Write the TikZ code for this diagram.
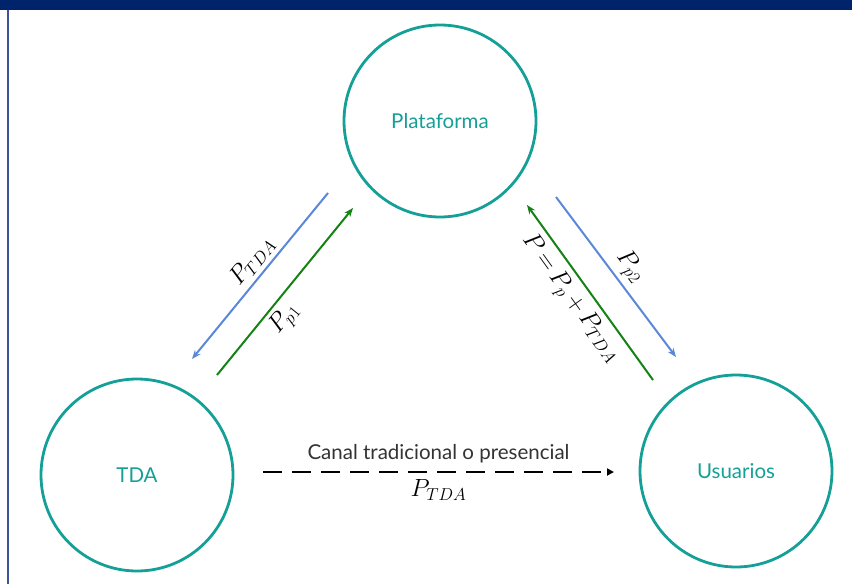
\documentclass[tikz,border=0pt]{standalone}
\usepackage{fontspec}
\setsansfont{Lato}
\usetikzlibrary{arrows.meta}
\definecolor{tealc}{RGB}{20,160,150}
\definecolor{bluec}{RGB}{90,135,215}
\definecolor{greenc}{RGB}{20,130,20}
\definecolor{navy}{RGB}{0,36,107}
\definecolor{edge}{RGB}{60,85,150}
\tikzset{
  actor/.style={circle, draw=tealc, line width=2.8pt, minimum size=192pt,
    inner sep=0pt, text=tealc, font=\sffamily\fontsize{20.5}{24}\selectfont},
  flowb/.style={draw=bluec, line width=2pt, -{Stealth[length=9pt,width=7pt]}},
  flowg/.style={draw=greenc, line width=2pt, -{Stealth[length=9pt,width=7pt]}},
  lbl/.style={font=\fontsize{23}{26}\selectfont}
}
\begin{document}
\begin{tikzpicture}[x=1pt, y=-1pt]
  \useasboundingbox (0,0) rectangle (852,584);
  % barra superior y borde
  \fill[navy] (0,0) rectangle (852,10);
  \draw[edge, line width=1.2pt] (8,10) -- (8,584);
  % actores
  \node[actor] (plat) at (440,121) {Plataforma};
  \node[actor] (tda) at (137,475) {TDA};
  \node[actor] (usr) at (736,471) {Usuarios};
  % extremos de las flechas
  \coordinate (b1s) at (328,193);
  \coordinate (b1e) at (192,359);
  \coordinate (g1s) at (217,375);
  \coordinate (g1e) at (353,208);
  \coordinate (g2s) at (653,380);
  \coordinate (g2e) at (527,205);
  \coordinate (b2s) at (556,197);
  \coordinate (b2e) at (676,357);
  \coordinate (ds) at (263,472);
  \coordinate (de) at (614,472);
  % TDA <-> plataforma
  \draw[flowb] (b1s) -- (b1e) node[pos=0.47, lbl, sloped, above=1pt] {$P_{TDA}$};
  \draw[flowg] (g1s) -- (g1e) node[pos=0.4, lbl, sloped, below=1pt] {$P_{p1}$};
  % plataforma <-> usuarios
  \draw[flowg] (g2s) -- (g2e) node[pos=0.53, lbl, sloped, below=3pt] {$P\,{=}\,P_p\,{+}\,P_{TDA}$};
  \draw[flowb] (b2s) -- (b2e) node[pos=0.5, lbl, sloped, above=1pt] {$P_{p2}$};
  % canal tradicional
  \draw[line width=2pt, dash pattern=on 19pt off 10pt, -{Triangle[length=7pt,width=7pt]}] (ds) -- (de)
    node[midway, above=5pt, font=\sffamily\fontsize{20.5}{24}\selectfont, text=black!80] {Canal tradicional o presencial}
    node[midway, below=3pt, lbl] {$P_{TDA}$};
\end{tikzpicture}
\end{document}
